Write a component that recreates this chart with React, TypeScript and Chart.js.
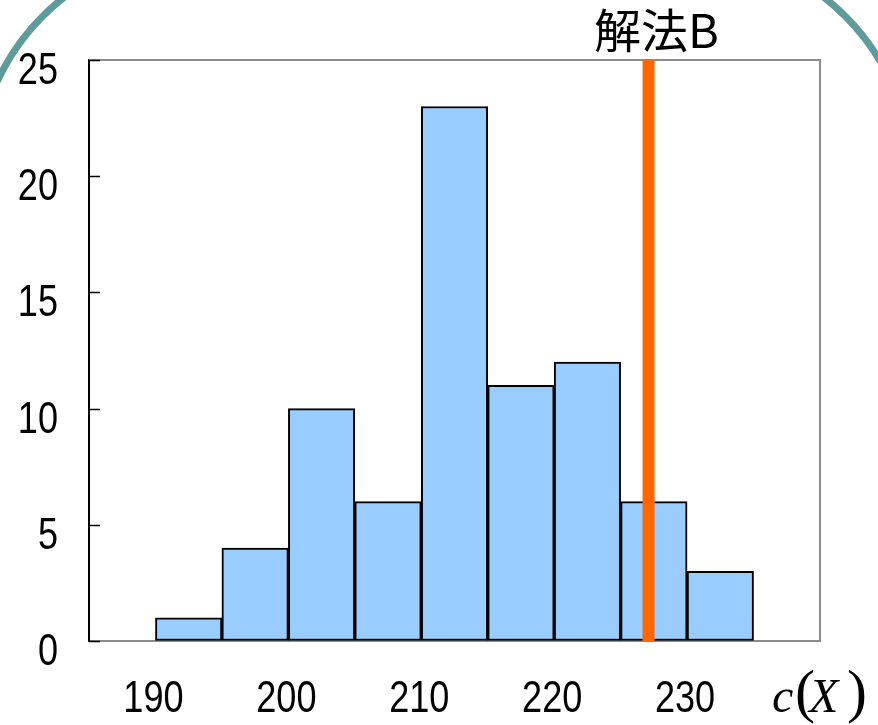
import React, { useEffect, useRef } from "react";
import { Chart, registerables } from "chart.js";

Chart.register(...registerables);

const binStarts = [190, 195, 200, 205, 210, 215, 220, 225, 230];
const binWidth = 5;
const counts = [1, 4, 10, 6, 23, 11, 12, 6, 3];
const xTicks = [190, 200, 210, 220, 230];
const yTicks = [0, 5, 10, 15, 20, 25];
const xMin = 185;
const xMax = 240;
const yMax = 25;
const markerValue = 227.1;
const markerLabel = "解法B";

const LABEL_FONT = "44px 'Liberation Sans', Arial, sans-serif";

function drawNarrow(ctx: CanvasRenderingContext2D, text: string, x: number, y: number, align: CanvasTextAlign) {
  ctx.save();
  ctx.translate(x, y);
  ctx.scale(0.82, 1);
  ctx.font = LABEL_FONT;
  ctx.fillStyle = "#000";
  ctx.textAlign = align;
  ctx.textBaseline = "alphabetic";
  ctx.fillText(text, 0, 0);
  ctx.restore();
}

const decorPlugin = {
  id: "decor",
  beforeDraw(chart: any) {
    const ctx = chart.ctx;
    ctx.save();
    ctx.strokeStyle = "#5F9B9B";
    ctx.lineWidth = 7;
    ctx.beginPath();
    if (ctx.roundRect) ctx.roundRect(-23.5, -50, 935, 1000, 226);
    ctx.stroke();
    ctx.restore();
  },
  afterDatasetsDraw(chart: any) {
    const ctx = chart.ctx;
    const { left, right, top, bottom } = chart.chartArea;
    const xs = chart.scales.x;
    const ys = chart.scales.y;
    ctx.save();
    // top and right frame
    ctx.strokeStyle = "#8c8c8c";
    ctx.lineWidth = 2;
    ctx.beginPath();
    ctx.moveTo(left, top);
    ctx.lineTo(right, top);
    ctx.lineTo(right, bottom);
    ctx.stroke();
    // inward y ticks
    ctx.strokeStyle = "#000";
    ctx.lineWidth = 1.5;
    ys.ticks.forEach((t: any) => {
      const y = Math.round(ys.getPixelForValue(t.value)) + 0.5;
      ctx.beginPath();
      ctx.moveTo(left, y);
      ctx.lineTo(left + 11, y);
      ctx.stroke();
    });
    // tick labels (narrow face, from the scales' ticks)
    ys.ticks.forEach((t: any) => {
      const y = ys.getPixelForValue(t.value);
      drawNarrow(ctx, String(t.label), left - 31, y + 24, "right");
    });
    xs.ticks.forEach((t: any) => {
      const x = xs.getPixelForValue(t.value);
      drawNarrow(ctx, String(t.label), x - 2, bottom + 71, "center");
    });
    // marker line
    const mx = xs.getPixelForValue(markerValue);
    ctx.fillStyle = "#FF6600";
    ctx.fillRect(mx - 6, top, 12, bottom - top);
    // marker label
    ctx.fillStyle = "#000";
    ctx.font = "47px 'Noto Sans CJK JP', sans-serif";
    ctx.textAlign = "center";
    ctx.textBaseline = "alphabetic";
    ctx.fillText(markerLabel, mx + 8, 48);
    // axis title c(X)
    const base = 712;
    ctx.textAlign = "left";
    ctx.font = "italic 48px 'Liberation Serif', serif";
    ctx.fillText("c", 772, base);
    ctx.font = "60px 'Liberation Serif', serif";
    ctx.fillText("(", 795, base - 1);
    ctx.font = "italic 48px 'Liberation Serif', serif";
    ctx.fillText("X", 809, base);
    ctx.font = "60px 'Liberation Serif', serif";
    ctx.fillText(")", 847, base - 1);
    ctx.restore();
  },
};

export default function App() {
  const ref = useRef<HTMLCanvasElement | null>(null);
  useEffect(() => {
    document.body.style.margin = "0";
    const canvas = ref.current;
    if (!canvas) return;
    const chart = new Chart(canvas, {
      type: "bar",
      data: {
        datasets: [
          {
            data: binStarts.map((s, i) => ({ x: s + binWidth / 2, y: counts[i] })),
            backgroundColor: "#99CCFF",
            borderColor: "#000000",
            borderWidth: 2,
            borderSkipped: false,
            barPercentage: 1,
            categoryPercentage: 1,
          },
        ],
      },
      options: {
        animation: false,
        responsive: false,
        devicePixelRatio: 1,
        layout: { padding: { left: 0, top: 60, right: 58, bottom: 0 } },
        plugins: { legend: { display: false }, tooltip: { enabled: false } },
        scales: {
          x: {
            type: "linear",
            min: xMin,
            max: xMax,
            offset: false,
            grid: { display: true, drawOnChartArea: false, drawTicks: false, offset: false },
            border: { display: true, color: "#8c8c8c", width: 2 },
            afterBuildTicks: (s: any) => {
              s.ticks = xTicks.map((v) => ({ value: v }));
            },
            afterFit: (s: any) => {
              s.height = 84;
            },
            ticks: { display: false, autoSkip: false, maxRotation: 0 },
          },
          y: {
            type: "linear",
            min: 0,
            max: yMax,
            grid: { display: true, drawOnChartArea: false, drawTicks: false },
            border: { display: true, color: "#000", width: 2 },
            afterBuildTicks: (s: any) => {
              s.ticks = yTicks.map((v) => ({ value: v }));
            },
            afterFit: (s: any) => {
              s.width = 89;
            },
            ticks: { display: false },
          },
        },
      },
      plugins: [decorPlugin],
    });
    return () => chart.destroy();
  }, []);
  return (
    <div style={{ position: "fixed", left: 0, top: 0, width: 878, height: 725, background: "#fff" }}>
      <canvas ref={ref} width={878} height={725} style={{ width: 878, height: 725, display: "block" }} />
    </div>
  );
}
